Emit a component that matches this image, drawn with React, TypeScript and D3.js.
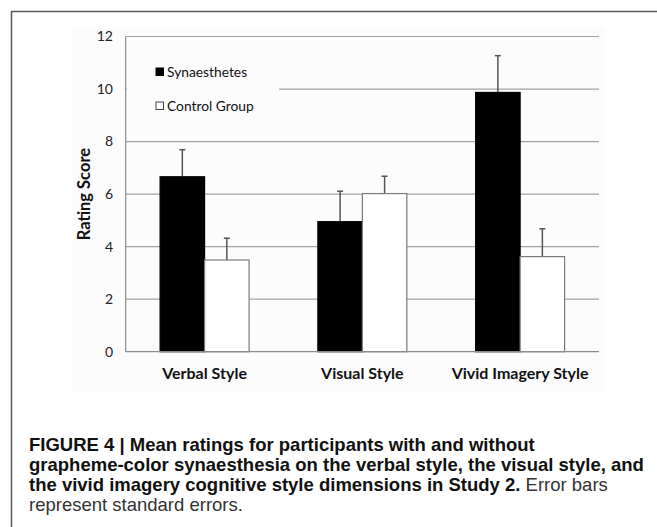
import { useEffect, useRef } from 'react'
import * as d3 from 'd3'

// chart data
const categories = ['Verbal Style', 'Visual Style', 'Vivid Imagery Style']
const seriesNames = ['Synaesthetes', 'Control Group']
const synaesthetes = [6.66, 4.95, 9.87]
const controlGroup = [3.49, 6.02, 3.62]
const synaesthetesErr = [1.03, 1.16, 1.4]
const controlErr = [0.83, 0.66, 1.06]
const yTicks = [0, 2, 4, 6, 8, 10, 12]

const captionLines: { text: string; bold: boolean }[][] = [
  [{ text: 'FIGURE 4 | Mean ratings for participants with and without', bold: true }],
  [{ text: 'grapheme-color synaesthesia on the verbal style, the visual style, and', bold: true }],
  [
    { text: 'the vivid imagery cognitive style dimensions in Study 2.', bold: true },
    { text: ' Error bars', bold: false },
  ],
  [{ text: 'represent standard errors.', bold: false }],
]

const W = 657
const H = 527

export default function App() {
  const svgRef = useRef<SVGSVGElement>(null)

  useEffect(() => {
    if (!svgRef.current) return
    const root = d3.select(svgRef.current)
    root.selectAll('*').remove()

    const chartFont = 'Lato, "Open Sans", sans-serif'
    const captionFont = '"Liberation Sans Narrow", "Liberation Sans", Arial, sans-serif'

    // outer frame (only top and left edges are visible in the crop)
    root.append('path')
      .attr('d', `M11.5,${H} V11.5 H${W}`)
      .attr('fill', 'none')
      .attr('stroke', '#5a5a5a')
      .attr('stroke-width', 1.5)

    // faint chart background
    root.append('rect')
      .attr('x', 73).attr('y', 27)
      .attr('width', 531).attr('height', 365)
      .attr('fill', '#fcfcfc')

    const plot = { left: 125.7, right: 599, top: 36.5, bottom: 351.7 }

    const x0 = d3.scaleBand<string>()
      .domain(categories)
      .range([plot.left, plot.right])
      .paddingInner(0)
      .paddingOuter(0)

    const x1 = d3.scaleBand<string>()
      .domain(seriesNames)
      .range([0, x0.bandwidth()])
      .paddingInner(0)
      .paddingOuter(0.773)

    const y = d3.scaleLinear()
      .domain([0, 12])
      .range([plot.bottom, plot.top])

    const g = root.append('g')

    // gridlines
    g.selectAll('.grid')
      .data(yTicks.filter(t => t > 0))
      .join('line')
      .attr('class', 'grid')
      .attr('x1', plot.left)
      .attr('x2', plot.right)
      .attr('y1', d => y(d))
      .attr('y2', d => y(d))
      .attr('stroke', '#a3a3a3')
      .attr('stroke-width', 1.2)

    // legend box hides part of the gridline at 10
    g.append('rect')
      .attr('x', plot.left + 1)
      .attr('y', 48)
      .attr('width', 279 - plot.left - 1)
      .attr('height', 78)
      .attr('fill', '#fcfcfc')

    // axes lines
    g.append('line')
      .attr('x1', plot.left).attr('x2', plot.left)
      .attr('y1', plot.top).attr('y2', plot.bottom)
      .attr('stroke', '#8c8c8c').attr('stroke-width', 1.2)

    // tick labels
    g.selectAll('.ytick')
      .data(yTicks)
      .join('text')
      .attr('class', 'ytick')
      .attr('x', 113)
      .attr('y', d => y(d))
      .attr('dy', '0.35em')
      .attr('text-anchor', 'end')
      .attr('font-family', chartFont)
      .attr('font-size', 14)
      .attr('fill', '#222')
      .text(d => d)

    // y-axis title
    g.append('text')
      .attr('transform', `translate(84, ${(plot.top + plot.bottom) / 2}) rotate(-90)`)
      .attr('dy', '0.35em')
      .attr('text-anchor', 'middle')
      .attr('font-family', chartFont)
      .attr('font-size', 16.5)
      .attr('font-weight', 'bold')
      .attr('fill', '#111')
      .text('Rating Score')

    const rows = categories.map((c, i) => [
      { cat: c, s: seriesNames[0], v: synaesthetes[i], e: synaesthetesErr[i] },
      { cat: c, s: seriesNames[1], v: controlGroup[i], e: controlErr[i] },
    ]).flat()

    // error bars (drawn under bars so stems start at bar tops)
    const errG = g.append('g')
    rows.forEach(d => {
      const cx = (x0(d.cat) || 0) + (x1(d.s) || 0) + x1.bandwidth() / 2
      errG.append('line')
        .attr('x1', cx).attr('x2', cx)
        .attr('y1', y(d.v)).attr('y2', y(d.v + d.e))
        .attr('stroke', '#555').attr('stroke-width', 1.5)
      errG.append('line')
        .attr('x1', cx - 3).attr('x2', cx + 3)
        .attr('y1', y(d.v + d.e)).attr('y2', y(d.v + d.e))
        .attr('stroke', '#555').attr('stroke-width', 1.5)
    })

    // bars
    g.selectAll('.bar')
      .data(rows)
      .join('rect')
      .attr('class', 'bar')
      .attr('x', d => (x0(d.cat) || 0) + (x1(d.s) || 0))
      .attr('y', d => y(d.v))
      .attr('width', x1.bandwidth())
      .attr('height', d => y(0) - y(d.v))
      .attr('fill', d => d.s === seriesNames[0] ? '#000' : '#fff')
      .attr('stroke', d => d.s === seriesNames[0] ? '#000' : '#7a7a7a')
      .attr('stroke-width', 1.2)

    // baseline
    g.append('line')
      .attr('x1', plot.left).attr('x2', plot.right)
      .attr('y1', plot.bottom).attr('y2', plot.bottom)
      .attr('stroke', '#8c8c8c').attr('stroke-width', 1.2)

    // category labels
    g.selectAll('.xlab')
      .data(categories)
      .join('text')
      .attr('class', 'xlab')
      .attr('x', d => (x0(d) || 0) + x0.bandwidth() / 2)
      .attr('y', 373)
      .attr('dy', '0.35em')
      .attr('text-anchor', 'middle')
      .attr('font-family', chartFont)
      .attr('font-size', 16)
      .attr('font-weight', 'bold')
      .attr('fill', '#111')
      .text(d => d)

    // legend
    const legend = g.append('g')
    seriesNames.forEach((s, i) => {
      const ly = 72 + i * 34
      legend.append('rect')
        .attr('x', 156).attr('y', ly - 4)
        .attr('width', 7.5).attr('height', 7.5)
        .attr('fill', i === 0 ? '#000' : '#fff')
        .attr('stroke', i === 0 ? '#000' : '#444')
        .attr('stroke-width', 1)
      legend.append('text')
        .attr('x', 167).attr('y', ly)
        .attr('dy', '0.35em')
        .attr('font-family', chartFont)
        .attr('font-size', 13.8)
        .attr('fill', '#111')
        .text(s)
    })

    // caption
    const cap = root.append('text')
      .attr('font-family', captionFont)
      .attr('font-size', 18.5)
      .attr('fill', '#111')
    captionLines.forEach((line, i) => {
      line.forEach((part, j) => {
        const t = cap.append('tspan')
          .attr('font-weight', part.bold ? 'bold' : 'normal')
          .attr('fill', part.bold ? '#111' : '#333')
          .text(part.text)
        if (j === 0) t.attr('x', 29).attr('y', 451 + i * 20)
      })
    })
  }, [])

  return (
    <svg
      ref={svgRef}
      width={W}
      height={H}
      viewBox={`0 0 ${W} ${H}`}
      style={{ position: 'absolute', left: 0, top: 0, background: '#fff' }}
    />
  )
}
